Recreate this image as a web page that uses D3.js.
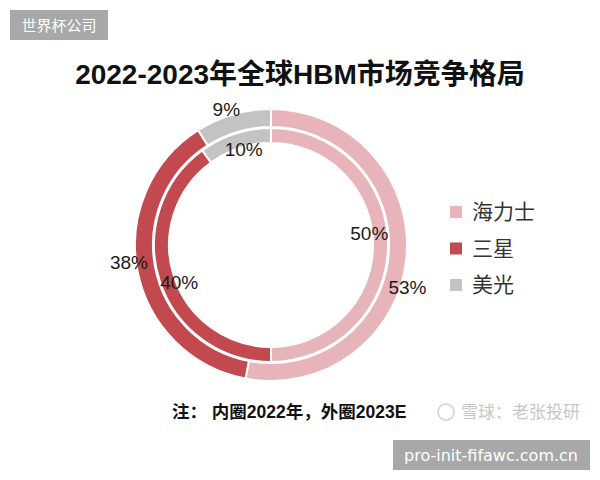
<!DOCTYPE html>
<html>
<head>
<meta charset="utf-8">
<script src="https://cdn.jsdelivr.net/npm/d3@7"></script>
<style>
  body { margin: 0; background: #fff; }
  text { font-family: "Liberation Sans", "Noto Sans CJK SC", sans-serif; }
</style>
</head>
<body>
<div id="chart"></div>
<script>
// data
var companies = ["海力士", "三星", "美光"];
var share2022 = [50, 40, 10];   // inner ring
var share2023 = [53, 38, 9];    // outer ring (2023E)
var colors = ["#e7b5b9", "#c24a4e", "#c3c3c3"];

var W = 600, H = 480;
var cx = 271, cy = 245;

var svg = d3.select("#chart").append("svg")
    .attr("width", W)
    .attr("height", H);

svg.append("rect").attr("width", W).attr("height", H).style("fill", "#fff");

// top-left badge
svg.append("rect")
    .attr("x", 10).attr("y", 10)
    .attr("width", 98).attr("height", 30)
    .style("fill", "#a8a8a8");
svg.append("text")
    .attr("x", 59).attr("y", 31)
    .attr("text-anchor", "middle")
    .style("font-family", "'Noto Sans CJK SC'")
    .style("font-size", "15px")
    .style("fill", "#fff")
    .text("世界杯公司");

// title
svg.append("text")
    .attr("x", 300).attr("y", 84)
    .attr("text-anchor", "middle")
    .style("font-size", "28px")
    .style("font-weight", "bold")
    .style("fill", "#111")
    .text("2022-2023年全球HBM市场竞争格局");

var pie = d3.pie().sort(null).value(function(d) { return d; });
var g = svg.append("g").attr("transform", "translate(" + cx + "," + cy + ")");
var ringLayer = g.append("g");
var labelLayer = g.append("g");

// draw one ring; labels go on a layer above both rings
function ring(values, r0, r1, labelR, nudge) {
    var arc = d3.arc().innerRadius(r0).outerRadius(r1);
    var lab = d3.arc().innerRadius(labelR).outerRadius(labelR);
    var arcs = pie(values);
    ringLayer.append("g").selectAll("path")
        .data(arcs)
        .enter().append("path")
        .attr("d", arc)
        .style("fill", function(d, i) { return colors[i]; })
        .style("stroke", "#fff")
        .style("stroke-width", 2);
    labelLayer.append("g").selectAll("text")
        .data(arcs)
        .enter().append("text")
        .attr("transform", function(d, i) {
            // shift label angle a little like the original layout
            var a = (nudge[i] || 0) * Math.PI / 180;
            var p = lab.centroid({startAngle: d.startAngle + a, endAngle: d.endAngle + a});
            return "translate(" + p + ")";
        })
        .attr("text-anchor", "middle")
        .attr("dy", "0.35em")
        .style("font-size", "19px")
        .style("fill", "#1a1a1a")
        .text(function(d) { return d.data + "%"; });
}

ring(share2022, 102, 117, 99, [-7, -4, 2]);
ring(share2023, 118, 136, 143, [12, 4, -2]);

// legend
var legend = svg.append("g").attr("transform", "translate(450, 212)");
var item = legend.selectAll("g")
    .data(companies)
    .enter().append("g")
    .attr("transform", function(d, i) { return "translate(0," + (i * 36.5) + ")"; });
item.append("rect")
    .attr("x", 0).attr("y", -6)
    .attr("width", 12).attr("height", 12)
    .style("fill", function(d, i) { return colors[i]; });
item.append("text")
    .attr("x", 22).attr("y", 0)
    .attr("dy", "0.35em")
    .style("font-family", "'Noto Sans CJK SC'")
    .style("font-size", "21px")
    .style("fill", "#333")
    .text(function(d) { return d; });

// note
svg.append("text")
    .attr("x", 172).attr("y", 418)
    .style("font-size", "17.5px")
    .style("font-weight", "bold")
    .style("fill", "#111")
    .text("注： 内圈2022年，外圈2023E");

// watermark
var wm = svg.append("g").style("opacity", 0.3);
wm.append("circle")
    .attr("cx", 446).attr("cy", 412).attr("r", 8)
    .style("fill", "none").style("stroke", "#666").style("stroke-width", 1.5);
wm.append("text")
    .attr("x", 461).attr("y", 418)
    .style("font-family", "'Noto Sans CJK SC'")
    .style("font-size", "17px")
    .style("fill", "#444")
    .text("雪球：老张投研");

// bottom-right badge
svg.append("rect")
    .attr("x", 393).attr("y", 440)
    .attr("width", 197).attr("height", 30)
    .style("fill", "#a8a8a8");
svg.append("text")
    .attr("x", 491).attr("y", 461)
    .attr("text-anchor", "middle")
    .style("font-family", "'DejaVu Sans'")
    .style("font-size", "16px")
    .style("fill", "#fff")
    .text("pro-init-fifawc.com.cn");
</script>
</body>
</html>
